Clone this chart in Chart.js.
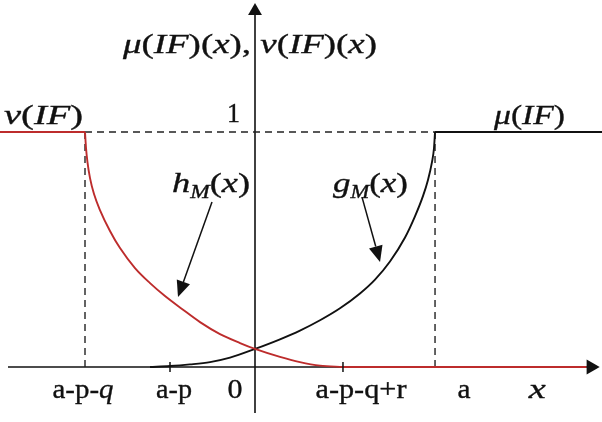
<!DOCTYPE html>
<html>
<head>
<meta charset="utf-8">
<script src="https://cdn.jsdelivr.net/npm/chart.js@4.4.0/dist/chart.umd.min.js"></script>
<style>
  html, body { margin: 0; padding: 0; background: #fff; }
  #chart { display: block; }
</style>
</head>
<body>
<canvas id="chart" width="602" height="422"></canvas>
<script>
// x positions of the marked points (one unit = distance from a-p to 0)
const xTickValues = [-2, -1, 0, 1.035, 2.118, 3.32];
const xTickLabels = ['a-p-q', 'a-p', '0', 'a-p-q+r', 'a', 'x'];
const yTickValues = [1];
const yTickLabels = ['1'];

// h_M(x): falls from 1 at a-p-q down to 0 at a-p-q+r
const hX = [-2, -1.988, -1.971, -1.941, -1.894, -1.824, -1.706, -1.588, -1.412, -1.235,
            -1.059, -0.859, -0.647, -0.412, -0.176, 0, 0.294, 0.529, 0.765, 1.035];
const hY = [1, 0.932, 0.872, 0.804, 0.736, 0.668, 0.579, 0.506, 0.421, 0.357,
            0.302, 0.247, 0.191, 0.140, 0.102, 0.077, 0.043, 0.021, 0.006, 0];

// g_M(x): rises from 0 around a-p up to 1 at a
const gX = [-1.235, -1, -0.765, -0.529, -0.294, 0, 0.294, 0.529, 0.765, 1, 1.235,
            1.412, 1.588, 1.765, 1.882, 1.976, 2.035, 2.082, 2.106, 2.118];
const gY = [0, 0.004, 0.011, 0.021, 0.040, 0.077, 0.118, 0.155, 0.199, 0.250, 0.313,
            0.372, 0.449, 0.551, 0.641, 0.727, 0.796, 0.872, 0.932, 1];

// flat parts of nu(IF) and mu(IF)
const nuLeftX = [-3.1, -2];
const nuLeftY = [1, 1];
const nuRightX = [1.035, 3.9];
const nuRightY = [0, 0];
const muRightX = [2.118, 4.2];
const muRightY = [1, 1];

function pts(xs, ys) {
  return xs.map((x, i) => ({ x: x, y: ys[i] }));
}

const RED = '#bd2c2c';
const INK = '#111';

function line(data, color, width, extra) {
  return Object.assign({
    data: data,
    showLine: true,
    borderColor: color,
    borderWidth: width,
    pointRadius: 0,
    fill: false
  }, extra || {});
}

// labels drawn with an italic serif; letters italic, brackets upright
function mathParts(str) {
  const parts = [];
  for (let i = 0; i < str.length; i++) {
    const c = str[i];
    if (c === '_') {
      parts.push({ t: str[i + 1], italic: true, sub: true });
      i++;
    } else {
      parts.push({ t: c, italic: /[A-Za-zμν]/.test(c) });
    }
  }
  return parts;
}

function textParts(str, italicChars) {
  return str.split('').map(c => ({ t: c, italic: (italicChars || '').indexOf(c) >= 0 }));
}

function fontOf(p) {
  const size = p.sub ? 18 : 28;
  return (p.italic ? 'italic ' : '') + size + 'px "Liberation Serif", "DejaVu Serif", serif';
}

function drawParts(ctx, parts, left, base, width) {
  ctx.save();
  let total = 0;
  parts.forEach(p => { ctx.font = fontOf(p); total += ctx.measureText(p.t).width; });
  const k = width ? width / total : 1;
  ctx.translate(left, base);
  ctx.scale(k, 1);
  ctx.fillStyle = INK;
  ctx.strokeStyle = INK;
  ctx.lineWidth = 0.35;
  ctx.textBaseline = 'alphabetic';
  let cx = 0;
  parts.forEach(p => {
    ctx.font = fontOf(p);
    const dy = p.sub ? 6 : 0;
    ctx.fillText(p.t, cx, dy);
    ctx.strokeText(p.t, cx, dy);
    cx += ctx.measureText(p.t).width;
  });
  ctx.restore();
}

// label layout: [text, left px, baseline px, width px]
const freeLabels = [
  ['μ(IF)(x), ν(IF)(x)', 123, 53, 254],
  ['ν(IF)', 4, 124, 79],
  ['μ(IF)', 494, 124, 71],
  ['h_M(x)', 172, 192, 78],
  ['g_M(x)', 333, 192, 75]
];
// tick label offsets from their tick and widths
const xLabelShift = [-2, 4, -20, 18, 29, 0];
const xLabelWidth = [61, 36, 15, 91, 13, 17];

// pointer arrows [fromX, fromY, toX, toY] in chart units
const pointers = [
  [-0.506, 0.702, -0.906, 0.298],
  [1.259, 0.723, 1.471, 0.447]
];

const labelsPlugin = {
  id: 'labels',
  afterDatasetsDraw(chart) {
    const ctx = chart.ctx;
    const sx = chart.scales.x, sy = chart.scales.y;

    // pointer arrows
    pointers.forEach(a => {
      const x1 = sx.getPixelForValue(a[0]), y1 = sy.getPixelForValue(a[1]);
      const x2 = sx.getPixelForValue(a[2]), y2 = sy.getPixelForValue(a[3]);
      const ang = Math.atan2(y2 - y1, x2 - x1);
      const len = 16, half = 7;
      const bx = x2 - Math.cos(ang) * len, by = y2 - Math.sin(ang) * len;
      ctx.save();
      ctx.strokeStyle = INK;
      ctx.fillStyle = INK;
      ctx.lineWidth = 1.5;
      ctx.beginPath();
      ctx.moveTo(x1, y1);
      ctx.lineTo(bx, by);
      ctx.stroke();
      ctx.beginPath();
      ctx.moveTo(x2, y2);
      ctx.lineTo(bx + Math.sin(ang) * half, by - Math.cos(ang) * half);
      ctx.lineTo(bx - Math.sin(ang) * half, by + Math.cos(ang) * half);
      ctx.closePath();
      ctx.fill();
      ctx.restore();
    });

    // tick labels under the x axis
    const base = sy.getPixelForValue(0) + 31;
    xTickValues.forEach((v, i) => {
      const lbl = xTickLabels[i];
      const parts = lbl === 'x' ? mathParts(lbl) : textParts(lbl, i === 0 ? 'q' : '');
      const w = xLabelWidth[i];
      const cx = sx.getPixelForValue(v) + xLabelShift[i];
      drawParts(ctx, parts, cx - w / 2, base, w);
    });

    // "1" on the left of the y axis
    yTickValues.forEach((v, i) => {
      const cx = sx.getPixelForValue(0) - 21.5;
      drawParts(ctx, textParts(yTickLabels[i]), cx - 6.5, sy.getPixelForValue(v) - 10, 13);
    });

    freeLabels.forEach(l => drawParts(ctx, mathParts(l[0]), l[1], l[2], l[3]));
  }
};

new Chart(document.getElementById('chart'), {
  type: 'scatter',
  data: {
    datasets: [
      // ticks on the x axis at a-p and a-p-q+r
      { data: pts([xTickValues[1], xTickValues[3]], [0, 0]), pointStyle: 'line', pointRotation: 90,
        pointRadius: 5, borderColor: INK, borderWidth: 1.5, order: 1 },
      // axis arrowheads
      { data: [{ x: 3.953, y: 0 }], pointStyle: 'triangle', pointRotation: 90, pointRadius: 8.7,
        backgroundColor: INK, borderWidth: 0, order: 1 },
      { data: [{ x: 0, y: 1.515 }], pointStyle: 'triangle', pointRotation: 0, pointRadius: 8,
        backgroundColor: INK, borderWidth: 0, order: 1 },
      line(pts(hX, hY), RED, 1.9, { cubicInterpolationMode: 'monotone', order: 2 }),
      line(pts(nuLeftX, nuLeftY), RED, 1.9, { order: 2 }),
      line(pts(nuRightX, nuRightY), RED, 1.9, { order: 2 }),
      line(pts(gX, gY), INK, 1.9, { cubicInterpolationMode: 'monotone', order: 3 }),
      line(pts(muRightX, muRightY), INK, 1.9, { order: 3 }),
      // dashed guides
      line(pts([-2, 2.118], [1, 1]), '#222', 1.4, { borderDash: [7, 5], order: 4 }),
      line(pts([-2, -2], [0, 1]), '#222', 1.4, { borderDash: [7, 5], order: 4 }),
      line(pts([2.118, 2.118], [0, 1]), '#222', 1.4, { borderDash: [7, 5], order: 4 }),
      // axes
      line(pts([-2.906, 3.95], [0, 0]), INK, 1.6, { order: 5 }),
      line(pts([0, 0], [-0.196, 1.515]), INK, 1.6, { order: 5 })
    ]
  },
  options: {
    responsive: false,
    animation: false,
    layout: { padding: 0, autoPadding: false },
    plugins: { legend: { display: false }, tooltip: { enabled: false } },
    scales: {
      x: { type: 'linear', min: -3, max: 602 / 85 - 3, display: false },
      y: { type: 'linear', min: -55 / 235, max: 367 / 235, display: false }
    }
  },
  plugins: [labelsPlugin]
});
</script>
</body>
</html>
